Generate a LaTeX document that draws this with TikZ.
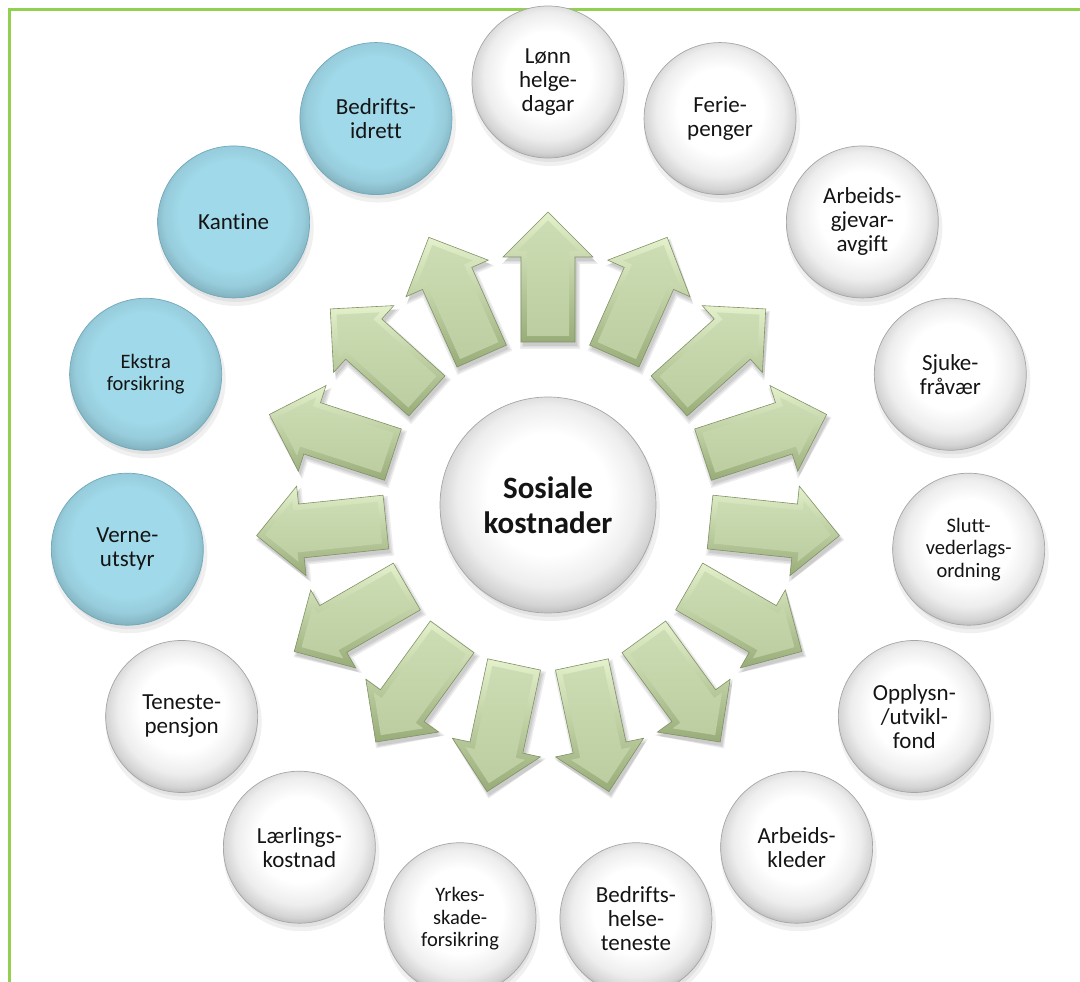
\documentclass[tikz,border=0pt]{standalone}
\usepackage{fontspec}
\setmainfont{Carlito}[Ligatures={NoCommon,NoContextual}]
\usetikzlibrary{calc}
\definecolor{bordergreen}{RGB}{146,208,80}
\definecolor{arrface}{RGB}{198,216,169}
\definecolor{arrlight}{RGB}{228,241,204}
\definecolor{arrdark}{RGB}{152,172,120}
\definecolor{arredge}{RGB}{128,146,102}
\definecolor{bluefill}{RGB}{160,217,233}
\definecolor{blueedge}{RGB}{112,168,188}
\definecolor{txt}{RGB}{20,20,20}
\pgfdeclareradialshading{whiteball}{\pgfpoint{0bp}{3.5bp}}{color(0bp)=(white); color(14bp)=(white); color(21bp)=(black!7); color(25bp)=(black!17); color(27.5bp)=(black!30); color(50bp)=(black!38)}
\pgfdeclareradialshading{blueball}{\pgfpoint{0bp}{3.5bp}}{color(0bp)=(bluefill); color(18bp)=(bluefill); color(23bp)=(bluefill!94!black); color(26bp)=(bluefill!84!black); color(28bp)=(bluefill!72!black); color(50bp)=(bluefill!70!black)}
\tikzset{
  outer/.style={circle, minimum size=152pt, inner sep=0pt, align=center,
    font=\fontsize{23}{24}\selectfont, text=txt, shading=whiteball, draw=black!35, line width=0.7pt},
  bluec/.style={outer, shading=blueball, draw=blueedge},
  smalltext/.style={font=\fontsize{20.5}{22.5}\selectfont},
  hub/.style={circle, minimum size=216pt, inner sep=0pt, align=center,
    font=\bfseries\fontsize{31}{35}\selectfont, text=txt, shading=whiteball, draw=black!35, line width=0.7pt},
  arrowbody/.style={top color=arrlight, bottom color=arrdark, draw=arredge, line width=0.6pt},
  arrowface/.style={top color=arrface!88!white, bottom color=arrface!95!black},
  softshadow/.style={fill=black, opacity=0.06}
}
\begin{document}
\begin{tikzpicture}[x=1pt,y=1pt]
\useasboundingbox (0,0) rectangle (1080,982);
\draw[bordergreen, line width=3pt] (9.5,-5) -- (9.5,972) -- (1090,972);
\coordinate (C) at (548,477);
% arrows
\foreach \k in {0,...,14}{
  \pgfmathsetmacro\a{90-24*\k}
  \begin{scope}[shift={(C)}, shift={(2,-4)}, rotate=\a]
    \foreach \w in {0,1.5,3}{
      \fill[black, opacity=0.07] (163-\w,27+\w) -- (248-\w,27+\w) -- (248-\w,45+\w) -- (293+\w,0) -- (248-\w,-45-\w) -- (248-\w,-27-\w) -- (163-\w,-27-\w) -- cycle;
    }
  \end{scope}
  \begin{scope}[shift={(C)}, rotate=\a]
    \path[arrowbody] (163,27) -- (248,27) -- (248,45) -- (293,0) -- (248,-45) -- (248,-27) -- (163,-27) -- cycle;
    \path[arrowface] (169,21) -- (254,21) -- (254,30.5) -- (284.5,0) -- (254,-30.5) -- (254,-21) -- (169,-21) -- cycle;
  \end{scope}
}
% outer positions
\foreach \k in {1,...,15}{
  \pgfmathsetmacro\a{90-24*(\k-1)}
  \coordinate (p\k) at ($(C)+(\a:423)$);
  \foreach \r in {66,70,74,78}{
    \fill[softshadow] ($(p\k)+(2,-6)$) circle (\r);
  }
}
\foreach \r in {98,102,106,110}{
  \fill[softshadow] ($(C)+(2,-6)$) circle (\r);
}
\node[hub] (hub) at (C) {Sosiale\\kostnader};
\node[outer] (n1) at (p1) {Lønn\\helge-\\dagar};
\node[outer] (n2) at (p2) {Ferie-\\penger};
\node[outer] (n3) at (p3) {Arbeids-\\gjevar-\\avgift};
\node[outer] (n4) at (p4) {Sjuke-\\fråvær};
\node[outer, smalltext] (n5) at (p5) {Slutt-\\vederlags-\\ordning};
\node[outer] (n6) at (p6) {Opplysn-\\/utvikl-\\fond};
\node[outer] (n7) at (p7) {Arbeids-\\kleder};
\node[outer] (n8) at (p8) {Bedrifts-\\helse-\\teneste};
\node[outer, smalltext] (n9) at (p9) {Yrkes-\\skade-\\forsikring};
\node[outer] (n10) at (p10) {Lærlings-\\kostnad};
\node[outer] (n11) at (p11) {Teneste-\\pensjon};
\node[bluec] (n12) at (p12) {Verne-\\utstyr};
\node[bluec, smalltext] (n13) at (p13) {Ekstra\\forsikring};
\node[bluec] (n14) at (p14) {Kantine};
\node[bluec] (n15) at (p15) {Bedrifts-\\idrett};
\end{tikzpicture}
\end{document}
